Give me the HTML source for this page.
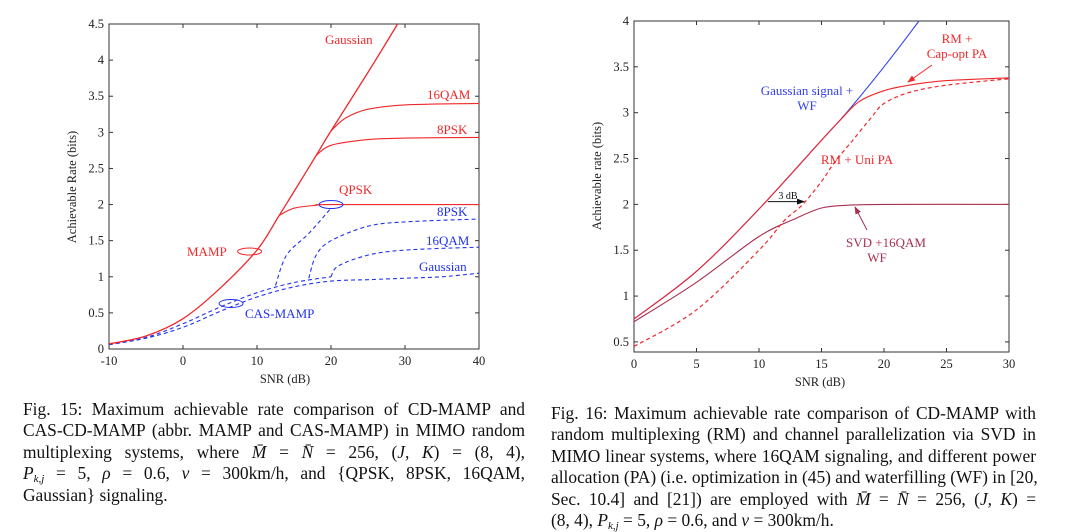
<!DOCTYPE html>
<html><head><meta charset="utf-8">
<style>
body{margin:0;background:#fff;width:1080px;height:524px;overflow:hidden;position:relative;font-family:"Liberation Serif",serif;}
svg{position:absolute;left:0;top:0;}
.cap{position:absolute;font-size:17.4px;line-height:21.4px;color:#111;}
.cap div{text-align:justify;text-align-last:justify;white-space:nowrap;height:21.4px;}
.cap div.last{text-align-last:left;}
.cap sub{font-size:11px;line-height:0;vertical-align:-3px;}
</style></head>
<body>
<svg id="chart" width="1080" height="390"></svg>
<div class="cap" style="left:23px;top:399px;width:502px;">
<div>Fig. 15: Maximum achievable rate comparison of CD-MAMP and</div>
<div>CAS-CD-MAMP (abbr. MAMP and CAS-MAMP) in MIMO random</div>
<div>multiplexing systems, where <i>M̄</i> = <i>N̄</i> = 256, (<i>J, K</i>) = (8, 4),</div>
<div><i>P<sub>k,j</sub></i> = 5, <i>ρ</i> = 0.6, <i>v</i> = 300km/h, and {QPSK, 8PSK, 16QAM,</div>
<div class="last">Gaussian} signaling.</div>
</div>
<div class="cap" style="left:551px;top:403px;width:485px;">
<div>Fig. 16: Maximum achievable rate comparison of CD-MAMP with</div>
<div>random multiplexing (RM) and channel parallelization via SVD in</div>
<div>MIMO linear systems, where 16QAM signaling, and different power</div>
<div>allocation (PA) (i.e. optimization in (45) and waterfilling (WF) in [20,</div>
<div>Sec. 10.4] and [21]) are employed with <i>M̄</i> = <i>N̄</i> = 256, (<i>J, K</i>) =</div>
<div class="last">(8, 4), <i>P<sub>k,j</sub></i> = 5, <i>ρ</i> = 0.6, and <i>v</i> = 300km/h.</div>
</div>
<script>
// Left chart data
const L_xTicks=[-10,0,10,20,30,40];
const L_yTicks=[0,0.5,1,1.5,2,2.5,3,3.5,4,4.5];
const L_yTickLabels=["0","0.5","1","1.5","2","2.5","3","3.5","4","4.5"];
const L_mampGaussX=[-10,-5,0,5,10,13,15,18,20,25,29];
const L_mampGaussY=[0.07,0.18,0.42,0.84,1.37,1.85,2.18,2.68,3.02,3.83,4.5];
const L_mamp16X=[20,22,25,30,40];
const L_mamp16Y=[3.02,3.2,3.32,3.38,3.4];
const L_mamp8X=[18,20,25,30,40];
const L_mamp8Y=[2.68,2.82,2.9,2.92,2.93];
const L_mampQX=[13,15,18,20,40];
const L_mampQY=[1.85,1.95,1.99,2.0,2.0];
const L_casGaussX=[-10,-5,0,5,10,15,20,25,30,35,40];
const L_casGaussY=[0.06,0.15,0.3,0.52,0.72,0.86,0.94,0.96,0.98,1.0,1.05];
const L_casUpX=[-10,-5,0,5,10,15,20];
const L_casUpY=[0.06,0.16,0.35,0.58,0.78,0.92,1.0];
const L_casQX=[12.5,14,17,20];
const L_casQY=[0.88,1.3,1.6,1.95];
const L_cas8X=[17,18,20,25,30,40];
const L_cas8Y=[0.98,1.3,1.5,1.7,1.76,1.8];
const L_cas16X=[20,21,25,30,40];
const L_cas16Y=[1.0,1.15,1.3,1.37,1.41];
// Right chart data
const R_xTicks=[0,5,10,15,20,25,30];
const R_yTicks=[0.5,1,1.5,2,2.5,3,3.5,4];
const R_yTickLabels=["0.5","1","1.5","2","2.5","3","3.5","4"];
const R_gaussX=[0,5,10,15,17,20,22.8];
const R_gaussY=[0.75,1.27,1.95,2.7,3.0,3.5,4.0];
const R_capX=[0,5,10,15,16.5,18,20,22,25,30];
const R_capY=[0.75,1.27,1.95,2.7,2.92,3.12,3.24,3.3,3.35,3.38];
const R_uniX=[0,5,10,12,13.5,15,16,17.5,19,20,22,25,30];
const R_uniY=[0.45,0.85,1.5,1.82,2.0,2.25,2.45,2.7,2.95,3.1,3.22,3.3,3.37];
const R_svdX=[0,5,10,13,15,17,20,30];
const R_svdY=[0.72,1.15,1.65,1.85,1.96,1.99,2.0,2.0];

const NS="http://www.w3.org/2000/svg";
const svg=document.getElementById('chart');
function mk(tag,attrs,parent){const e=document.createElementNS(NS,tag);for(const k in attrs)e.setAttribute(k,attrs[k]);(parent||svg).appendChild(e);return e;}
function axis(x0,x1,y0,y1,xmin,xmax,ymin,ymax){return{sx:v=>x0+(v-xmin)/(xmax-xmin)*(x1-x0),sy:v=>y1-(v-ymin)/(ymax-ymin)*(y1-y0),x0,x1,y0,y1};}
function pathD(ax,xs,ys){const p=xs.map((x,i)=>[ax.sx(x),ax.sy(ys[i])]);let d='M'+p[0][0].toFixed(1)+','+p[0][1].toFixed(1);
 for(let i=0;i<p.length-1;i++){const a=p[i-1]||p[i],b=p[i],c=p[i+1],e=p[i+2]||c;
 const c1=[b[0]+(c[0]-a[0])/6,b[1]+(c[1]-a[1])/6],c2=[c[0]-(e[0]-b[0])/6,c[1]-(e[1]-b[1])/6];
 d+=`C${c1[0].toFixed(1)},${c1[1].toFixed(1)} ${c2[0].toFixed(1)},${c2[1].toFixed(1)} ${c[0].toFixed(1)},${c[1].toFixed(1)}`;}return d;}
function line(ax,xs,ys,color,w,dash,name){const e=mk('path',{d:pathD(ax,xs,ys),fill:'none',stroke:color,'stroke-width':w});if(dash)e.setAttribute('stroke-dasharray',dash);
 
 return e;}
function txt(x,y,s,color,size,anchor,name){const e=mk('text',{x,y,fill:color,'font-size':size,'text-anchor':anchor||'start','font-family':'Liberation Serif, serif'});e.textContent=s;
 
 return e;}
function frame(ax,xt,xl,yt,yl,name){
 const g=mk('g',{});
 
 
 mk('rect',{x:ax.x0,y:ax.y0,width:ax.x1-ax.x0,height:ax.y1-ax.y0,fill:'none',stroke:'#333','stroke-width':1},g);
 xt.forEach((v,i)=>{const x=ax.sx(v);mk('line',{x1:x,x2:x,y1:ax.y1,y2:ax.y1-4,stroke:'#333'},g);mk('line',{x1:x,x2:x,y1:ax.y0,y2:ax.y0+4,stroke:'#333'},g);
  const t=txt(x,ax.y1+16,xl[i],'#222',12.5,'middle','x-tick-label');g.appendChild(t);});
 yt.forEach((v,i)=>{const y=ax.sy(v);mk('line',{x1:ax.x0,x2:ax.x0+4,y1:y,y2:y,stroke:'#333'},g);mk('line',{x1:ax.x1,x2:ax.x1-4,y1:y,y2:y,stroke:'#333'},g);
  const t=txt(ax.x0-5,y+4,yl[i],'#222',12.5,'end','y-tick-label');g.appendChild(t);});
}
// Left
const A=axis(109,479,24,349,-10,40,0,4.5);
frame(A,L_xTicks,L_xTicks.map(String),L_yTicks,L_yTickLabels,'left-axes');
txt(285,383,'SNR (dB)','#222',12.5,'middle','left-x-axis-title');
const lt=txt(0,0,'Achievable Rate (bits)','#222',12.5,'middle','left-y-axis-title');lt.setAttribute('transform','translate(76,187) rotate(-90)');
const red='#f0282a',blue='#2233ee';
line(A,L_casGaussX,L_casGaussY,blue,1.1,'4,3','cas-gaussian-line');
line(A,L_casUpX,L_casUpY,blue,1.1,'4,3','cas-upper-line');
line(A,L_casQX,L_casQY,blue,1.1,'4,3','cas-qpsk-line');
line(A,L_cas8X,L_cas8Y,blue,1.1,'4,3','cas-8psk-line');
line(A,L_cas16X,L_cas16Y,blue,1.1,'4,3','cas-16qam-line');
line(A,L_mampGaussX,L_mampGaussY,red,1.3,null,'mamp-gaussian-line');
line(A,L_mamp16X,L_mamp16Y,red,1.1,null,'mamp-16qam-line');
line(A,L_mamp8X,L_mamp8Y,red,1.1,null,'mamp-8psk-line');
line(A,L_mampQX,L_mampQY,red,1.1,null,'mamp-qpsk-line');
function ell(cx,cy,rx,ry,c,name){const e=mk('ellipse',{cx,cy,rx,ry,fill:'none',stroke:c,'stroke-width':1});}
ell(A.sx(9),A.sy(1.35),12,3.5,red,'mamp-ellipse');
ell(A.sx(20),A.sy(2.0),12,4,blue,'qpsk-ellipse');
ell(A.sx(6.5),A.sy(0.63),12,4,blue,'cas-ellipse');
txt(325,44,'Gaussian',red,13,'start','label-gaussian-red');
txt(427,99,'16QAM',red,13,'start','label-16qam-red');
txt(437,134,'8PSK',red,13,'start','label-8psk-red');
txt(339,194,'QPSK',red,13,'start','label-qpsk-red');
txt(437,216,'8PSK',blue,13,'start','label-8psk-blue');
txt(426,245,'16QAM',blue,13,'start','label-16qam-blue');
txt(419,271,'Gaussian',blue,13,'start','label-gaussian-blue');
txt(187,256,'MAMP',red,13,'start','label-mamp');
txt(245,318,'CAS-MAMP',blue,13,'start','label-cas-mamp');
// Right
const B=axis(634,1009,21,352,0,30,0.39,4);
frame(B,R_xTicks,R_xTicks.map(String),R_yTicks,R_yTickLabels,'right-axes');
txt(820,386,'SNR (dB)','#222',12.5,'middle','right-x-axis-title');
const rt=txt(0,0,'Achievable rate (bits)','#222',12.5,'middle','right-y-axis-title');rt.setAttribute('transform','translate(601,176) rotate(-90)');
line(B,R_gaussX,R_gaussY,'#3340ee',1.1,null,'gaussian-wf-line');
line(B,R_svdX,R_svdY,'#a83050',1.1,null,'svd-16qam-line');
line(B,R_uniX,R_uniY,red,1.2,'4,3','rm-uni-pa-line');
line(B,R_capX,R_capY,red,1.1,null,'rm-capopt-line');
const defs=mk('defs',{});
['k','r','m'].forEach((id,i)=>{const m=mk('marker',{id:'ar'+id,markerWidth:8,markerHeight:6,refX:7,refY:3,orient:'auto',markerUnits:'userSpaceOnUse'},defs);mk('path',{d:'M0,0L8,3L0,6z',fill:['#111',red,'#a83050'][i]},m);});
function arrow(x1,y1,x2,y2,c,id,name){const e=mk('line',{x1,y1,x2,y2,stroke:c,'stroke-width':1,'marker-end':'url(#ar'+id+')'});}
arrow(B.sx(10.7),B.sy(2.03),B.sx(13.6),B.sy(2.03),'#111','k','3db-arrow');
arrow(932,65,908,82,red,'r','capopt-arrow');
arrow(867,230,855,207,'#a83050','m','svd-arrow');
txt(788,199,'3 dB','#111',10,'middle','label-3db');
txt(957,43,'RM +',red,13,'middle','label-rm-capopt-1');
txt(957,58,'Cap-opt PA',red,13,'middle','label-rm-capopt-2');
txt(807,95,'Gaussian signal +','#3340ee',13,'middle','label-gaussian-wf-1');
txt(807,110,'WF','#3340ee',13,'middle','label-gaussian-wf-2');
txt(857,164,'RM + Uni PA',red,13,'middle','label-rm-uni');
txt(886,247,'SVD +16QAM','#a83050',13,'middle','label-svd-1');
txt(877,262,'WF','#a83050',13,'middle','label-svd-2');
</script>
</body></html>
